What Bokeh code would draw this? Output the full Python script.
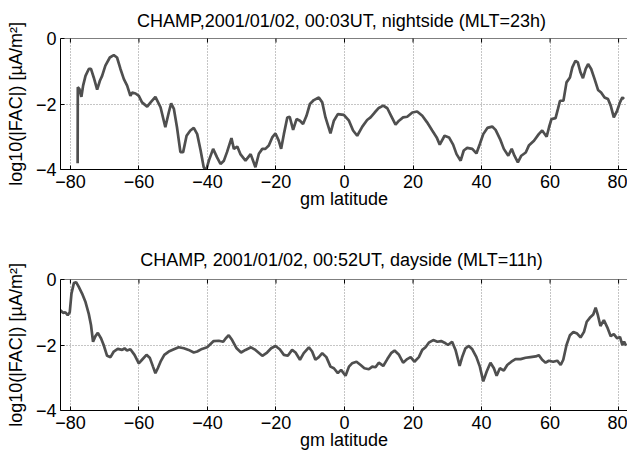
import math
from bokeh.plotting import figure
from bokeh.layouts import column
from bokeh.models import Range1d, FixedTicker, Span
from bokeh.embed import file_html
from bokeh.resources import INLINE

# ---- data ----
night_lat = [-77.9, -77.85, -77.4, -76.8, -76.3, -75.6, -74.65, -74.0, -73.2, -72.2,
             -71.4, -70.75, -69.8, -68.5, -67.35, -66.4, -65.4, -64.4, -63.45, -62.5,
             -62.0, -61.0, -60.05, -59.1, -57.6, -56.6, -55.2, -53.7, -52.3, -51.3,
             -50.6, -49.8, -48.9, -47.9, -47.1, -46.1, -45.0, -44.0, -43.0, -42.0,
             -41.1, -40.4, -39.6, -38.35, -37.2, -36.2, -35.2, -34.3, -33.0, -32.3,
             -31.3, -30.4, -28.9, -27.4, -26.0, -25.0, -24.0, -23.1, -22.1, -21.1,
             -20.15, -19.2, -18.5, -17.7, -16.7, -16.0, -15.0, -14.0, -13.0, -12.1,
             -11.1, -10.1, -8.95, -7.5, -6.5, -5.55, -4.1, -3.1, -1.95, -0.2,
             1.3, 2.5, 3.7, 5.2, 6.6, 7.6, 8.8, 10.0, 11.3, 12.5,
             13.6, 14.9, 15.9, 17.1, 18.3, 19.8, 21.2, 22.7, 24.1, 25.6,
             26.9, 27.8, 29.2, 30.5, 31.7, 32.7, 33.9, 34.8, 35.8, 37.3,
             38.5, 39.5, 40.5, 41.7, 43.1, 44.1, 45.4, 46.5, 47.8, 48.8,
             49.6, 50.6, 51.6, 52.9, 53.8, 55.3, 56.7, 57.7, 59.0, 59.7,
             60.4, 61.6, 62.3, 62.9, 63.9, 64.8, 65.8, 66.5, 67.4, 68.1,
             68.9, 69.6, 70.4, 71.1, 72.0, 73.0, 74.0, 74.9, 75.9, 76.9,
             77.7, 78.6, 79.6, 80.4, 81.1, 81.6]
night_fac = [-3.81, -1.49, -1.54, -1.78, -1.44, -1.14, -0.93, -0.93, -1.19, -1.56,
             -1.29, -1.14, -0.83, -0.58, -0.51, -0.58, -0.93, -1.24, -1.44, -1.75,
             -1.65, -1.68, -1.75, -1.95, -2.08, -1.95, -1.78, -2.10, -2.71, -2.26,
             -1.98, -2.15, -2.71, -3.47, -3.47, -2.97, -2.81, -2.73, -2.92, -3.42,
             -3.93, -4.03, -3.73, -3.37, -3.63, -3.83, -3.73, -3.47, -3.04, -3.37,
             -3.30, -3.53, -3.73, -3.53, -3.93, -3.52, -3.37, -3.37, -3.27, -3.02,
             -2.90, -3.12, -3.37, -2.92, -2.41, -2.39, -2.79, -2.46, -2.51, -2.61,
             -2.36, -2.00, -1.88, -1.80, -1.95, -2.41, -2.90, -2.51, -2.31, -2.33,
             -2.51, -2.81, -2.97, -2.69, -2.49, -2.41, -2.26, -2.12, -2.05, -2.13,
             -2.36, -2.63, -2.51, -2.41, -2.39, -2.26, -2.23, -2.36, -2.56, -2.81,
             -3.02, -3.24, -2.97, -3.02, -3.24, -3.53, -3.73, -3.42, -3.34, -3.37,
             -3.51, -3.22, -2.92, -2.73, -2.69, -2.79, -3.07, -3.37, -3.58, -3.37,
             -3.58, -3.78, -3.58, -3.48, -3.27, -3.12, -2.92, -2.81, -3.00, -2.71,
             -2.46, -2.43, -2.15, -1.90, -1.90, -1.34, -1.19, -0.88, -0.68, -0.73,
             -1.04, -1.21, -0.93, -0.78, -0.93, -1.24, -1.57, -1.65, -1.80, -1.85,
             -2.05, -2.41, -2.20, -1.95, -1.80, -1.85]

day_lat = [-82.9, -82.15, -81.5, -80.8, -80.2, -79.7, -79.0, -78.35, -77.6, -76.6,
           -75.6, -74.65, -74.0, -73.4, -72.7, -72.0, -71.05, -70.3, -69.3, -68.3,
           -67.35, -66.2, -64.9, -64.2, -63.5, -62.5, -61.3, -60.05, -59.1, -57.8,
           -56.8, -55.9, -55.2, -54.5, -53.7, -52.6, -51.3, -49.8, -48.4, -46.9,
           -45.5, -44.0, -43.0, -41.6, -40.1, -39.1, -38.2, -36.7, -35.4, -34.7,
           -33.8, -32.8, -31.5, -30.2, -28.9, -27.3, -26.0, -24.0, -22.6, -21.4,
           -20.15, -18.9, -17.7, -16.55, -15.3, -14.3, -13.0, -11.9, -10.4, -9.45,
           -8.5, -7.5, -6.5, -5.3, -4.1, -3.1, -1.95, -1.0, 0.3, 1.3,
           2.2, 3.5, 4.7, 5.8, 7.1, 8.1, 9.05, 10.0, 11.3, 12.5,
           13.6, 14.6, 15.9, 17.1, 18.3, 19.3, 20.4, 21.7, 22.7, 23.65,
           24.6, 25.9, 27.1, 28.2, 29.2, 30.2, 31.4, 32.4, 33.6, 34.4,
           35.3, 36.3, 37.3, 38.5, 39.5, 40.5, 41.5, 42.6, 43.6, 44.4,
           45.35, 46.5, 47.5, 48.7, 49.9, 51.4, 52.85, 54.3, 55.8, 56.7,
           57.7, 58.7, 59.65, 60.9, 62.1, 63.1, 63.85, 64.8, 65.8, 66.8,
           67.9, 68.9, 69.9, 70.7, 71.6, 72.6, 73.3, 73.96, 74.7, 75.7,
           76.7, 77.7, 78.6, 79.6, 80.4, 81.1, 81.6, 82.2]
day_fac = [-0.94, -1.02, -1.00, -1.09, -1.00, -0.43, -0.11, -0.08, -0.22, -0.43,
           -0.69, -1.05, -1.39, -1.90, -1.73, -1.63, -1.80, -2.00, -2.33, -2.37,
           -2.20, -2.12, -2.15, -2.10, -2.17, -2.13, -2.30, -2.56, -2.45, -2.30,
           -2.40, -2.66, -2.86, -2.71, -2.51, -2.30, -2.20, -2.13, -2.07, -2.10,
           -2.15, -2.23, -2.20, -2.12, -2.07, -1.97, -1.88, -1.87, -1.90, -1.80,
           -1.70, -1.85, -2.10, -2.23, -2.15, -2.07, -2.15, -2.33, -2.23, -2.10,
           -2.03, -2.13, -2.30, -2.33, -2.15, -2.23, -2.45, -2.25, -2.07, -2.20,
           -2.45, -2.37, -2.25, -2.37, -2.66, -2.71, -2.86, -2.76, -2.94, -2.66,
           -2.56, -2.51, -2.61, -2.71, -2.74, -2.66, -2.68, -2.54, -2.64, -2.43,
           -2.25, -2.17, -2.30, -2.54, -2.43, -2.37, -2.51, -2.37, -2.15, -2.07,
           -1.93, -1.85, -1.90, -1.88, -1.93, -2.00, -1.90, -2.15, -2.64, -2.35,
           -2.10, -2.03, -2.13, -2.37, -2.66, -3.11, -2.81, -2.54, -2.71, -2.94,
           -2.71, -2.78, -2.61, -2.51, -2.43, -2.43, -2.39, -2.37, -2.35, -2.31,
           -2.45, -2.54, -2.48, -2.51, -2.48, -2.61, -2.45, -2.00, -1.70, -1.60,
           -1.65, -1.77, -1.60, -1.29, -1.17, -1.07, -0.86, -1.09, -1.42, -1.24,
           -1.46, -1.73, -1.67, -1.80, -1.75, -2.00, -1.90, -2.02]

x_ticks = [-80, -60, -40, -20, 0, 20, 40, 60, 80]
x_tick_labels = ["\u221280", "\u221260", "\u221240", "\u221220", "0", "20", "40", "60", "80"]
y_ticks = [-4, -2, 0]
y_tick_labels = ["\u22124", "\u22122", "0"]

title_night = "CHAMP,2001/01/02, 00:03UT,  nightside (MLT=23h)"
title_day = "CHAMP, 2001/01/02, 00:52UT,  dayside (MLT=11h)"
x_label = "gm latitude"
y_label = "log10(|FAC|) [\u00b5A/m\u00b2]"

FONT = "Liberation Sans"
FS = "18px"
LINE_COLOR = "#4f4f4f"
X_MIN, X_MAX = -82.9, 82.6
Y_MIN, Y_MAX = -4, 0


def make_fig(title, lat, fac, height, top_border, bottom_border, title_standoff,
             xlabel_standoff):
    p = figure(width=627, height=height, output_backend="svg", toolbar_location=None,
               x_range=Range1d(X_MIN, X_MAX), y_range=Range1d(Y_MIN, Y_MAX),
               min_border_left=60, min_border_right=0,
               min_border_top=top_border, min_border_bottom=bottom_border,
               title=title)
    p.outline_line_color = None
    p.background_fill_color = "white"
    p.border_fill_color = "white"

    p.title.align = "center"
    p.title.text_font = FONT
    p.title.text_font_size = FS
    p.title.text_font_style = "normal"
    p.title.text_color = "black"
    p.title.standoff = title_standoff

    for g in (p.xgrid[0], p.ygrid[0]):
        g.grid_line_color = "#8a8a8a"
        g.grid_line_dash = "1 2"
        g.grid_line_width = 1
    p.xgrid[0].ticker = FixedTicker(ticks=x_ticks)
    p.ygrid[0].ticker = FixedTicker(ticks=y_ticks)

    p.line(lat, fac, line_color=LINE_COLOR, line_width=2.7)

    # top box edge with inward ticks (MATLAB style box)
    p.add_layout(Span(location=Y_MAX, dimension="width", line_color="black", line_width=1))
    p.scatter(x_ticks, [Y_MAX] * len(x_ticks), marker="dash", angle=math.pi / 2, size=8,
              line_color="black", line_width=1)

    xa = p.xaxis[0]
    xa.ticker = FixedTicker(ticks=x_ticks)
    xa.major_label_overrides = {t: l for t, l in zip(x_ticks, x_tick_labels)}
    xa.axis_label = x_label
    ya = p.yaxis[0]
    ya.ticker = FixedTicker(ticks=y_ticks)
    ya.major_label_overrides = {t: l for t, l in zip(y_ticks, y_tick_labels)}
    ya.axis_label = y_label
    for ax in (xa, ya):
        ax.axis_line_color = "black"
        ax.axis_line_width = 1
        ax.major_tick_in = 4
        ax.major_tick_out = 0
        ax.minor_tick_line_color = None
        ax.major_tick_line_color = "black"
        ax.major_label_text_font = FONT
        ax.major_label_text_font_size = FS
        ax.major_label_text_color = "black"
        ax.axis_label_text_font = FONT
        ax.axis_label_text_font_size = FS
        ax.axis_label_text_font_style = "normal"
        ax.axis_label_text_color = "black"
    xa.major_label_standoff = 5
    xa.axis_label_standoff = xlabel_standoff
    ya.major_label_standoff = 4
    ya.axis_label_standoff = 7
    return p


p1 = make_fig(title_night, night_lat, night_fac, 226, 38, 57, 16, -2)
p2 = make_fig(title_day, day_lat, day_fac, 226, 53, 40, 20, -2)
layout = column(p1, p2, spacing=0)

open("out.html", "w").write(file_html(layout, INLINE))
